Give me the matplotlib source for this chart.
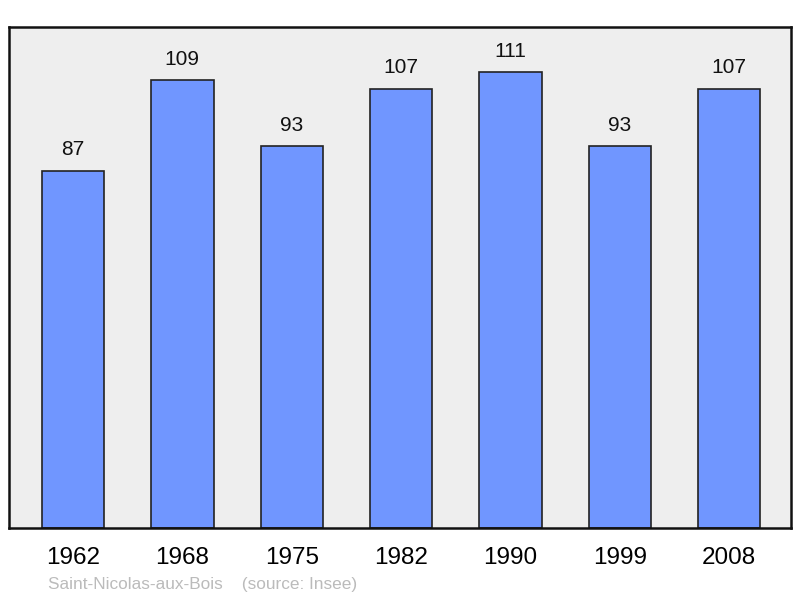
import matplotlib.pyplot as plt

plt.rcParams['font.family'] = ['Liberation Sans', 'DejaVu Sans']

years = ['1962', '1968', '1975', '1982', '1990', '1999', '2008']
population = [87, 109, 93, 107, 111, 93, 107]

fig = plt.figure(figsize=(8, 5.98), dpi=100)
ax = fig.add_axes([9 / 800, 1 - 528 / 598, 782 / 800, 501 / 598])
ax.set_facecolor('#eeeeee')

x = range(len(years))
ax.bar(x, population, width=0.57, color='#7096ff', edgecolor='#222222', linewidth=1.2, zorder=2)
for xi, v in zip(x, population):
    ax.text(xi, v + 2.8, str(v), ha='center', va='bottom', fontsize=15, color='#111111')

ax.set_xlim(-0.585, 6.565)
ax.set_ylim(0, 122)
ax.set_yticks([])
ax.set_xticks(list(x))
ax.set_xticklabels(years, fontsize=17.5)
ax.tick_params(axis='x', length=0, pad=14)
for s in ax.spines.values():
    s.set_linewidth(1.8)
    s.set_color('#111111')

fig.text(48 / 800, 1 - 584 / 598, 'Saint-Nicolas-aux-Bois    (source: Insee)',
         fontsize=12.4, color='#bbbbbb', va='center', ha='left')

fig.savefig('out.png', dpi=100)
